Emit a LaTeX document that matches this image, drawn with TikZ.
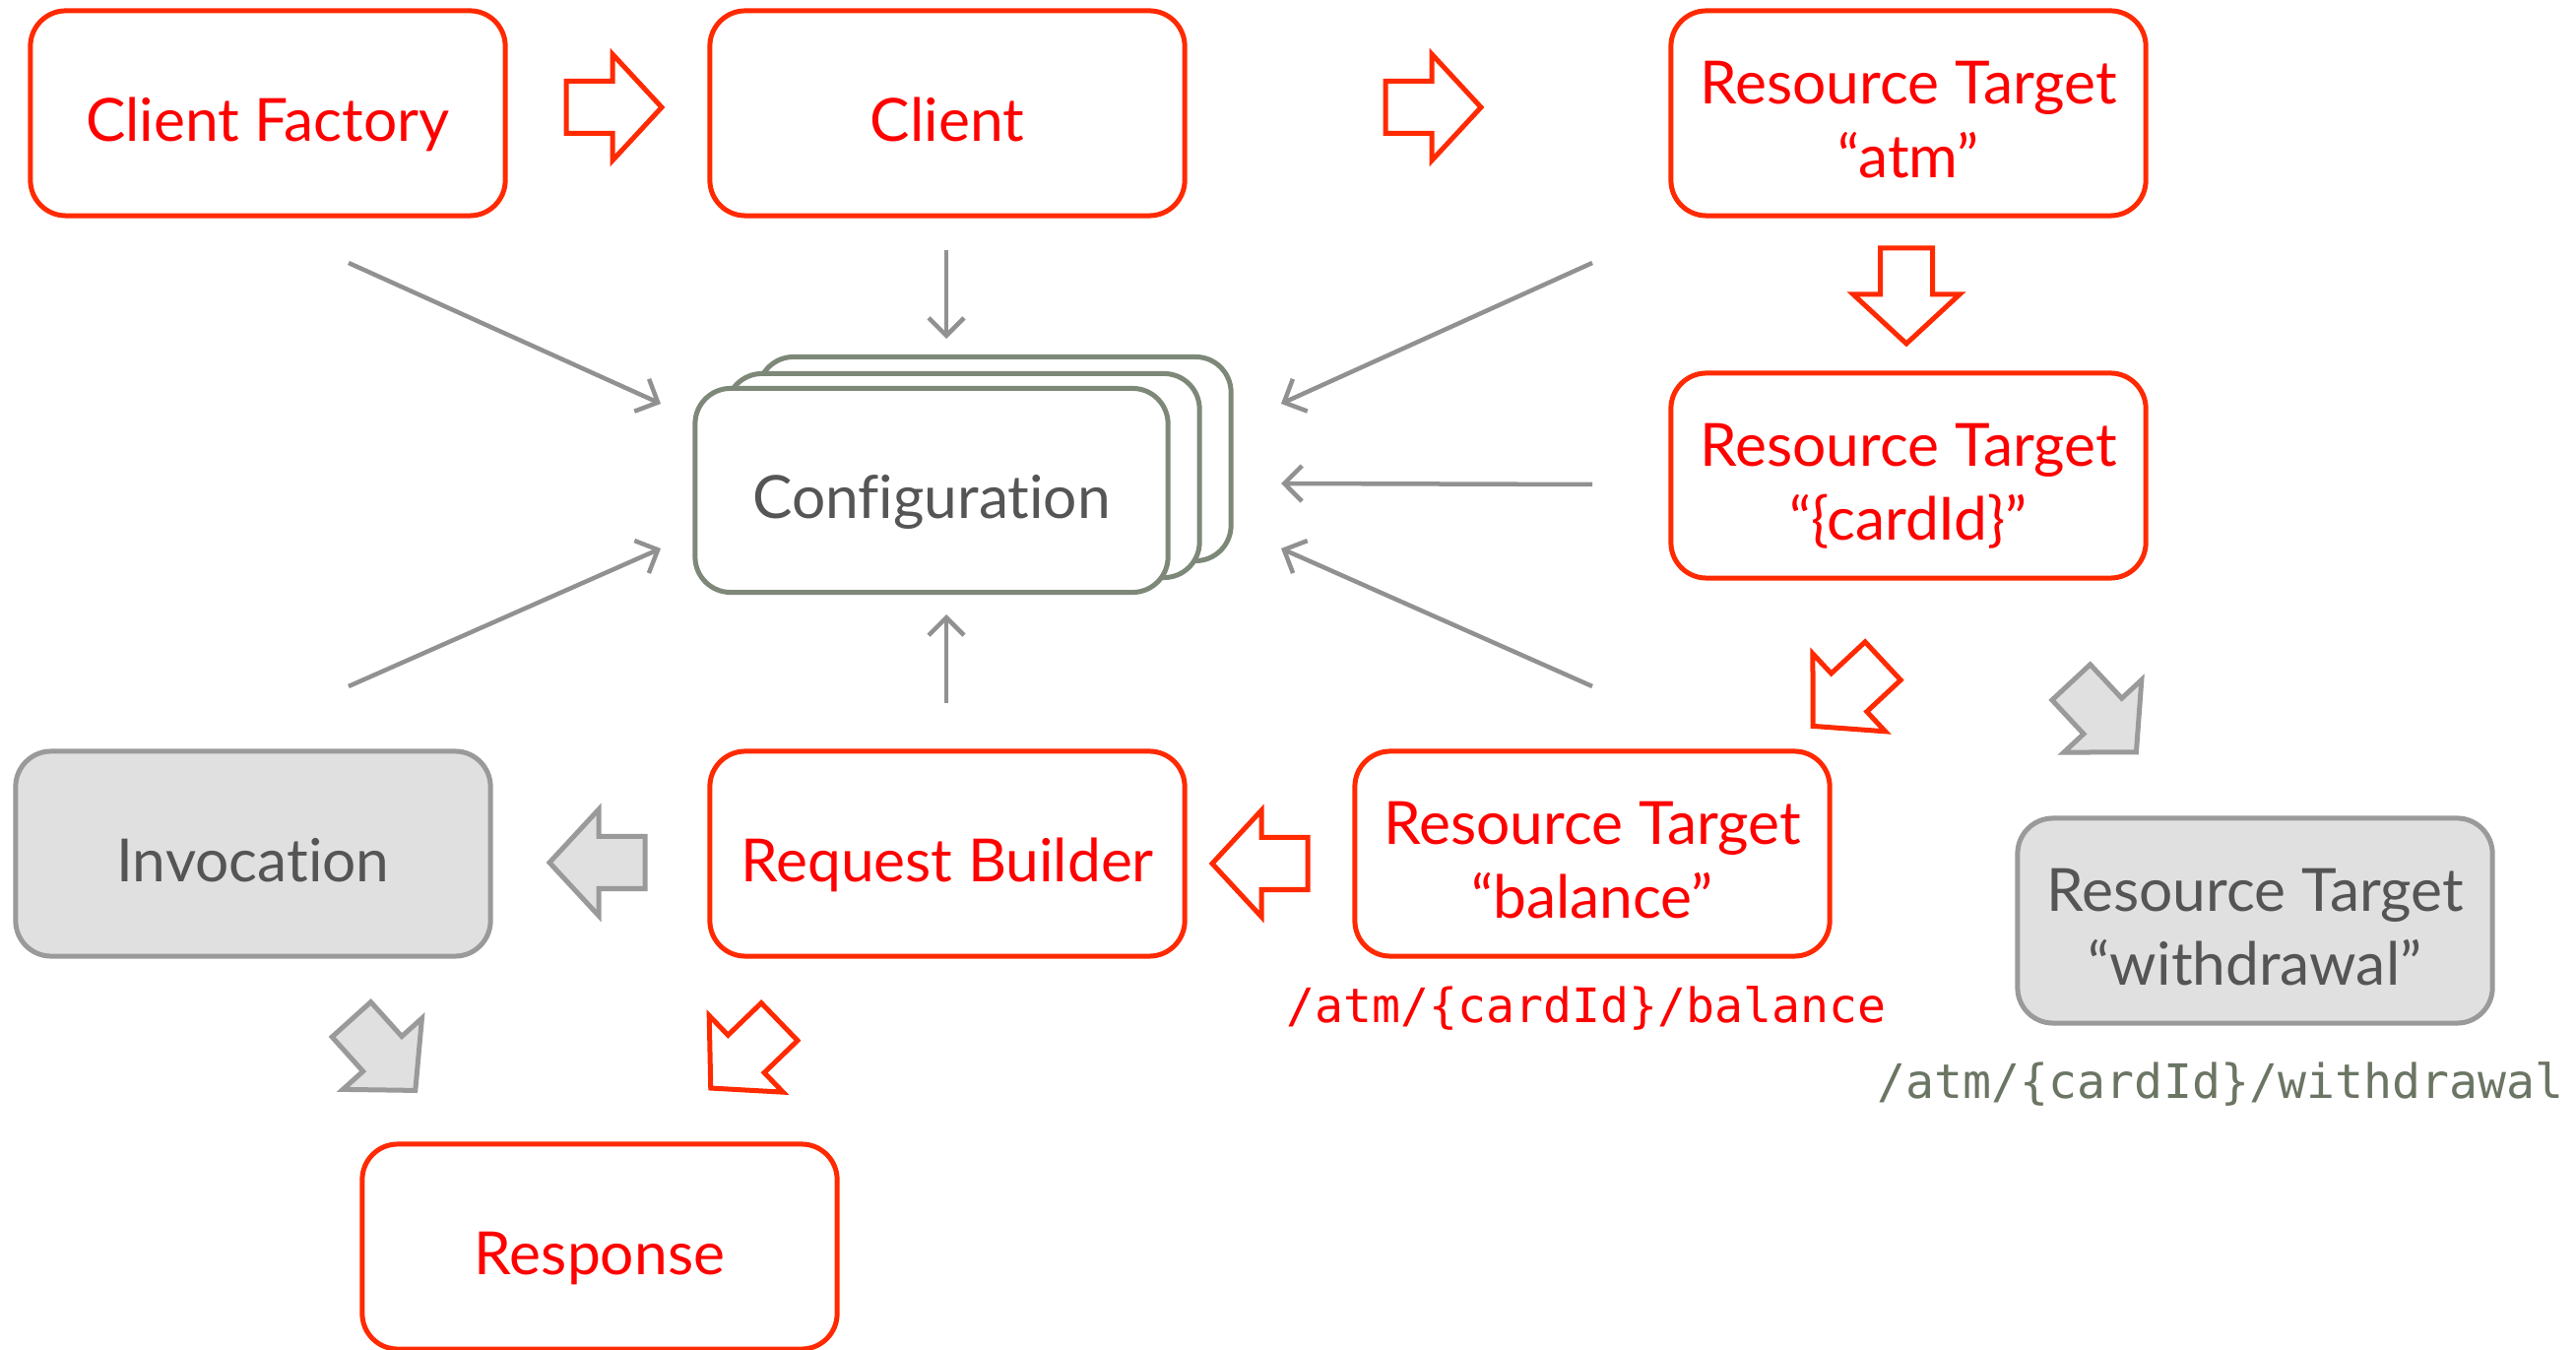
\documentclass[tikz,border=0pt]{standalone}
\usepackage{fontspec}
\setmainfont{Lato}[Ligatures={TeX,NoCommon}]
\setmonofont{DejaVu Sans Mono}
\usetikzlibrary{arrows.meta}
\definecolor{boxred}{HTML}{FF2A00}
\definecolor{txtred}{HTML}{FF0000}
\definecolor{cfgline}{HTML}{7E8878}
\definecolor{thinline}{HTML}{919191}
\definecolor{greyfill}{HTML}{E0E0E0}
\definecolor{greyline}{HTML}{9A9A9A}
\definecolor{greytxt}{HTML}{555555}
\definecolor{pathgrey}{HTML}{6B7563}
\tikzset{
  redbox/.style={draw=boxred, line width=0.05cm, rounded corners=0.36cm,
    minimum width=4.82cm, minimum height=2.08cm, align=center,
    text height=16pt, text depth=0pt,
    text=txtred, font=\fontsize{17.2}{21.2}\selectfont},
  twoline/.style={text height=37pt, text depth=0pt},
  greybox/.style={redbox, draw=greyline, fill=greyfill, text=greytxt},
  cfgbox/.style={redbox, draw=cfgline, fill=white, text=greytxt,
    minimum width=4.8cm, minimum height=2.07cm},
  pathlabel/.style={font=\fontsize{13.7}{16}\selectfont\ttfamily},
  thinarrow/.style={draw=thinline, line width=0.045cm,
    -{Straight Barb[length=0.18cm,width=0.36cm]}},
  redarrow/.style={draw=boxred, line width=0.05cm, fill=white},
  greyarrow/.style={draw=greyline, line width=0.05cm, fill=greyfill}
}
\newcommand{\blockarrow}[4]{%
  \draw[#4, shift={(#1,#2)}, rotate=#3, line join=miter]
    (-48,-26.5) -- (-1,-26.5) -- (-1,-54) -- (49,0) -- (-1,54)
    -- (-1,26.5) -- (-48,26.5) -- cycle;}
\begin{document}
\begin{tikzpicture}[x=0.01cm, y=-0.01cm]
\path[use as bounding box, fill=white] (0,0) rectangle (2616,1371);

\node[redbox] (cf) at (272,115) {Client Factory};
\node[redbox] (client) at (962,115) {Client};
\node[redbox, twoline] (atm) at (1938,115) {Resource Target\\“atm”};
\node[redbox, twoline] (card) at (1938,483) {Resource Target\\“\{cardId\}”};
\node[redbox, twoline] (bal) at (1617,867) {Resource Target\\“balance”};
\node[redbox] (rb) at (962,867) {Request Builder};
\node[greybox] (inv) at (257,867) {Invocation};
\node[greybox, twoline] (wd) at (2290,935) {Resource Target\\“withdrawal”};
\node[redbox] (resp) at (609,1266) {Response};

\node[cfgbox] (cfg3) at (1010,466) {};
\node[cfgbox] (cfg2) at (978,483) {};
\node[cfgbox] (cfg) at (946,498) {Configuration};

\node[pathlabel, text=txtred] (balpath) at (1611,1024) {/atm/\{cardId\}/balance};
\node[pathlabel, text=pathgrey] (wdpath) at (2255,1101) {/atm/\{cardId\}/withdrawal};

\coordinate (cfout) at (354,267);   \coordinate (cfin) at (671,410);
\coordinate (clout) at (961,254);   \coordinate (clin) at (961,344);
\coordinate (atmout) at (1617,267); \coordinate (atmin) at (1301,410);
\coordinate (cdout) at (1617,492);  \coordinate (cdin) at (1301,491);
\coordinate (balout) at (1617,697); \coordinate (balin) at (1301,557);
\coordinate (invout) at (354,697);  \coordinate (invin) at (671,557);
\coordinate (rbout) at (961,714);   \coordinate (rbin) at (961,624);
\foreach \s/\e in {cfout/cfin, clout/clin, atmout/atmin, cdout/cdin,
                   balout/balin, invout/invin, rbout/rbin}
  \draw[thinarrow] (\s) -- (\e);

\blockarrow{623}{109}{0}{redarrow}
\blockarrow{1455}{109}{0}{redarrow}
\blockarrow{1936}{300}{-90}{redarrow}
\blockarrow{1877}{704}{223}{redarrow}
\blockarrow{2136}{728}{-47}{greyarrow}
\blockarrow{1280}{877}{180}{redarrow}
\blockarrow{607}{876}{180}{greyarrow}
\blockarrow{389}{1071}{-48}{greyarrow}
\blockarrow{757}{1071}{224}{redarrow}
\end{tikzpicture}
\end{document}
